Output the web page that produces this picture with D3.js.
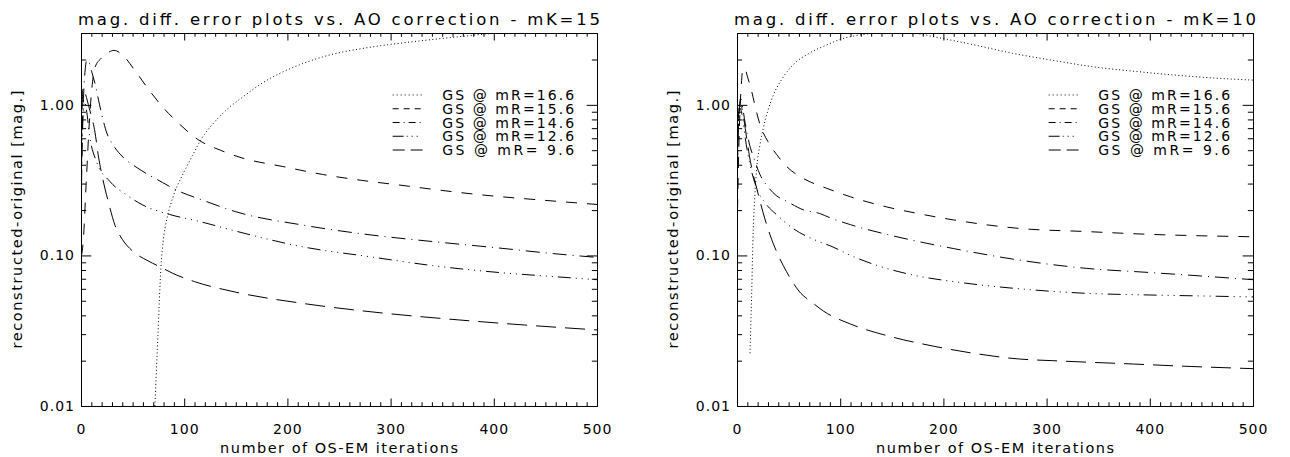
<!DOCTYPE html>
<html>
<head>
<meta charset="utf-8">
<script src="https://cdn.jsdelivr.net/npm/d3@7"></script>
<style>
  html, body { margin: 0; padding: 0; background: #fff; }
  svg { display: block; font-family: "DejaVu Sans", sans-serif; }
</style>
</head>
<body>
<svg id="chart" width="1290" height="457"></svg>
<script>
// tick values
const xTicks = [0, 100, 200, 300, 400, 500];
const xMinorTicks = d3.range(0, 501, 10).filter(v => v % 100 !== 0);
const yTicks = [0.01, 0.1, 1];
const yMinorTicks = [0.02, 0.03, 0.04, 0.05, 0.06, 0.07, 0.08, 0.09,
                     0.2, 0.3, 0.4, 0.5, 0.6, 0.7, 0.8, 0.9, 2, 3];

const titles = ["mag. diff. error plots vs. AO correction - mK=15",
                "mag. diff. error plots vs. AO correction - mK=10"];
const seriesNames = ["GS @ mR=16.6", "GS @ mR=15.6", "GS @ mR=14.6", "GS @ mR=12.6", "GS @ mR= 9.6"];

// mK=15 panel: [iterations, magnitude difference]
const mK15_mR166 = [[71.6,0.01],[74.5,0.029],[77.4,0.082],[80,0.13],[83,0.172],[87,0.22],[91,0.265],[100,0.36],
  [108,0.46],[116,0.584],[128,0.75],[142,0.94],[157,1.13],[176,1.4],[196,1.66],[215,1.88],[234,2.08],
  [253,2.24],[273,2.37],[292,2.48],[312,2.58],[350,2.76],[389,2.94],[420,3.08],[460,3.25],[500,3.4]];
const mK15_mR156 = [[0.5,0.1],[2,0.12],[5,0.3],[8,0.75],[10,1.17],[13.5,1.77],[20,2.05],[26,2.22],[32,2.3],
  [40,2.15],[52,1.7],[65,1.28],[79,0.97],[95,0.75],[114,0.584],[135,0.5],[157,0.442],[195,0.39],[234,0.345],
  [272,0.315],[311,0.292],[350,0.27],[389,0.252],[440,0.235],[500,0.218]];
const mK15_mR146 = [[0.5,0.3],[2,0.9],[4,1.7],[5.8,1.98],[8,1.9],[10.5,1.65],[13.5,1.39],[18,1.0],[25,0.65],
  [32,0.53],[40.6,0.45],[55,0.38],[79,0.305],[91,0.275],[120,0.23],[150,0.195],[215,0.159],[280,0.137],
  [344,0.123],[405,0.112],[450,0.104],[500,0.097]];
const mK15_mR126 = [[0.5,0.4],[2,0.9],[3.5,1.05],[5,0.95],[8.7,0.6],[15,0.42],[28,0.31],[45,0.25],[60,0.216],
  [86,0.187],[115,0.168],[150,0.145],[215,0.114],[280,0.098],[344,0.085],[405,0.077],[450,0.073],[500,0.069]];
const mK15_mR96 = [[0.5,0.6],[2,1.3],[4,1.2],[8,0.95],[13.5,0.66],[17,0.45],[21,0.325],[27,0.22],[33,0.158],
  [40,0.128],[50.6,0.106],[65,0.092],[78,0.083],[89,0.076],[110,0.067],[150,0.057],[215,0.048],[280,0.0423],
  [366,0.0373],[430,0.0345],[500,0.032]];

// mK=10 panel
const mK10_mR166 = [[12.6,0.0224],[13.4,0.035],[14.2,0.055],[15,0.095],[15.8,0.152],[17.3,0.25],[19.1,0.38],
  [22,0.53],[25.5,0.7],[30,0.92],[35.2,1.16],[44,1.5],[54.6,1.85],[70,2.2],[86.9,2.5],[100,2.72],[120,2.92],
  [150,3.02],[175,2.97],[190,2.84],[230,2.5],[267,2.2],[305,1.98],[345,1.79],[385,1.67],[422.5,1.58],
  [460,1.51],[500,1.46]];
const mK10_mR156 = [[0.5,0.2],[2,0.6],[4,1.3],[6.1,1.75],[8,1.72],[10,1.55],[14.2,1.23],[18,0.95],[22.3,0.74],
  [30,0.57],[38.5,0.467],[48,0.39],[57.9,0.344],[70,0.31],[87,0.279],[110,0.245],[145,0.21],[175,0.19],
  [210,0.172],[274,0.151],[339,0.144],[400,0.138],[450,0.135],[500,0.133]];
const mK10_mR146 = [[0.5,0.4],[2,0.9],[3.5,1.1],[5,1.0],[8,0.75],[12,0.55],[16,0.45],[22.3,0.344],[30,0.285],
  [38,0.25],[48,0.229],[65,0.2],[80,0.19],[90,0.178],[110,0.16],[145,0.138],[175,0.124],[210,0.111],
  [274,0.093],[339,0.082],[400,0.077],[450,0.073],[500,0.069]];
const mK10_mR126 = [[0.5,0.5],[2,0.85],[3,0.95],[5,0.85],[8,0.6],[12,0.42],[19,0.28],[28,0.22],[38.5,0.186],
  [55,0.15],[80,0.123],[90,0.116],[113,0.098],[145,0.082],[175,0.073],[210,0.067],[274,0.06],[339,0.056],
  [400,0.0546],[450,0.0538],[500,0.053]];
const mK10_mR96 = [[0.5,0.5],[2,0.95],[4,0.98],[6,0.85],[9.4,0.6],[12,0.46],[15,0.36],[18.5,0.29],[22.3,0.229],
  [27,0.175],[32,0.137],[40,0.1],[48,0.078],[60,0.058],[74,0.048],[84,0.0426],[110,0.035],[148,0.029],
  [190,0.025],[229,0.0224],[274,0.0205],[306,0.02],[384,0.019],[440,0.0183],[500,0.0177]];

const panels = [
  { title: titles[0], left: 81, right: 597, series: [mK15_mR166, mK15_mR156, mK15_mR146, mK15_mR126, mK15_mR96] },
  { title: titles[1], left: 737, right: 1253, series: [mK10_mR166, mK10_mR156, mK10_mR146, mK10_mR126, mK10_mR96] }
];

// IDL line styles: dotted, dashed, dash-dot, dash-dot-dot-dot, long dashes
const curveDash = ["1,2.5", "11,10", "14,6,1,6", "13,5,1,5,1,5,1,5", "20,9"];
const legendDash = ["1,3", "6,5", "7,4,1,4", "11,3,1,4,1,4,1,5", "12,6"];

const plotTop = 33, plotBottom = 406;
const svg = d3.select("#chart");

panels.forEach((p, pi) => {
  const x = d3.scaleLinear().domain([0, 500]).range([p.left, p.right]);
  const y = d3.scaleLog().domain([0.01, 3]).range([plotBottom, plotTop]);
  const g = svg.append("g");

  // clip region for the curves
  const clipId = "clip" + pi;
  g.append("clipPath").attr("id", clipId)
    .append("rect")
    .attr("x", p.left).attr("y", plotTop)
    .attr("width", p.right - p.left).attr("height", plotBottom - plotTop);

  const xLen = 7.5, yLen = 10.3;

  const axes = [
    [d3.axisBottom(x).tickValues(xTicks).tickSize(-xLen).tickPadding(18).tickFormat(d3.format("d")), `translate(0,${plotBottom})`],
    [d3.axisBottom(x).tickValues(xMinorTicks).tickSize(-xLen / 2).tickFormat(""), `translate(0,${plotBottom})`],
    [d3.axisTop(x).tickValues(xTicks).tickSize(-xLen).tickFormat(""), `translate(0,${plotTop})`],
    [d3.axisTop(x).tickValues(xMinorTicks).tickSize(-xLen / 2).tickFormat(""), `translate(0,${plotTop})`],
    [d3.axisLeft(y).tickValues(yTicks).tickSize(-yLen).tickPadding(6).tickFormat(d => d.toFixed(2)), `translate(${p.left},0)`],
    [d3.axisLeft(y).tickValues(yMinorTicks).tickSize(-yLen / 2).tickFormat(""), `translate(${p.left},0)`],
    [d3.axisRight(y).tickValues(yTicks).tickSize(-yLen).tickFormat(""), `translate(${p.right},0)`],
    [d3.axisRight(y).tickValues(yMinorTicks).tickSize(-yLen / 2).tickFormat(""), `translate(${p.right},0)`]
  ];
  axes.forEach(([ax, tr]) => {
    const a = g.append("g").attr("transform", tr).call(ax);
    a.select(".domain").remove();
    a.attr("font-family", null).attr("font-size", null);
    a.selectAll("line").attr("stroke", "#000");
    a.selectAll("text").attr("fill", "#000").attr("font-size", 14).attr("letter-spacing", 1);
  });

  // frame
  g.append("rect")
    .attr("x", p.left + 0.5).attr("y", plotTop + 0.5)
    .attr("width", p.right - p.left).attr("height", plotBottom - plotTop)
    .attr("fill", "none").attr("stroke", "#000").attr("stroke-width", 1);

  // curves
  const line = d3.line()
    .x(d => x(d[0]))
    .y(d => y(d[1]))
    .curve(d3.curveMonotoneX);
  g.append("g").attr("clip-path", `url(#${clipId})`)
    .selectAll("path")
    .data(p.series)
    .join("path")
    .attr("d", line)
    .attr("fill", "none")
    .attr("stroke", "#000")
    .attr("stroke-width", 1)
    .attr("stroke-dasharray", (d, i) => curveDash[i]);

  // legend
  const lg = g.append("g");
  seriesNames.forEach((name, i) => {
    const ly = 100 + i * 13.75;
    lg.append("line")
      .attr("x1", x(302)).attr("x2", x(331))
      .attr("y1", ly - 5).attr("y2", ly - 5)
      .attr("stroke", "#000").attr("stroke-width", 1)
      .attr("stroke-dasharray", legendDash[i]);
    lg.append("text")
      .attr("x", x(350)).attr("y", ly)
      .attr("font-size", 14)
      .style("white-space", "pre")
      .attr("textLength", 132)
      .attr("lengthAdjust", "spacing")
      .text(name);
  });

  // title
  g.append("text")
    .attr("x", (p.left + p.right) / 2).attr("y", 25)
    .attr("text-anchor", "middle")
    .attr("font-size", 16.5)
    .attr("textLength", 522).attr("lengthAdjust", "spacing")
    .text(p.title);

  // axis titles
  g.append("text")
    .attr("x", (p.left + p.right) / 2).attr("y", 453)
    .attr("text-anchor", "middle")
    .attr("font-size", 14.5)
    .attr("textLength", 238).attr("lengthAdjust", "spacing")
    .text("number of OS-EM iterations");

  g.append("text")
    .attr("transform", `translate(${p.left - 59},${(plotTop + plotBottom) / 2}) rotate(-90)`)
    .attr("text-anchor", "middle")
    .attr("font-size", 14.5)
    .attr("textLength", 258).attr("lengthAdjust", "spacing")
    .text("reconstructed-original [mag.]");
});
</script>
</body>
</html>
